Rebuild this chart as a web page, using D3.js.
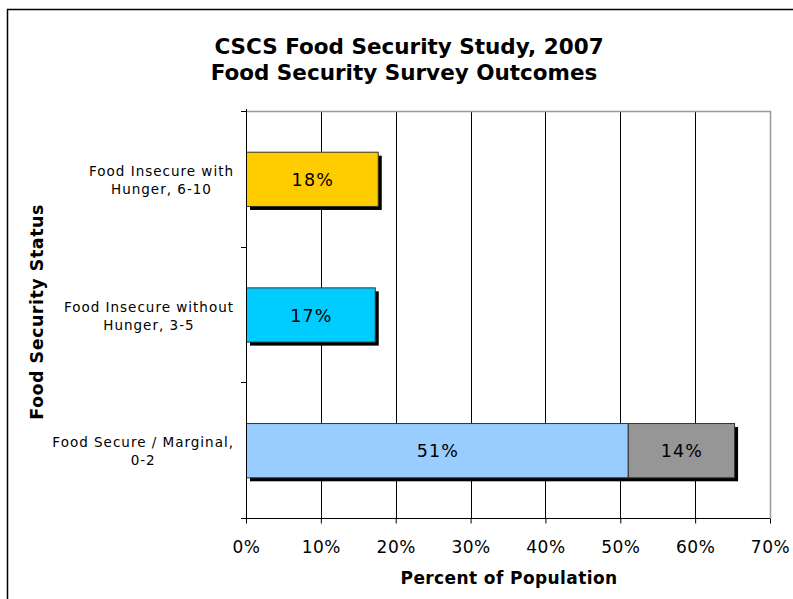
<!DOCTYPE html>
<html>
<head>
<meta charset="utf-8">
<script src="https://cdn.jsdelivr.net/npm/d3@7"></script>
<style>
  body { margin: 0; background: #fff; }
  text { font-family: "DejaVu Sans", Verdana, sans-serif; fill: #000; }
</style>
</head>
<body>
<svg id="chart" width="793" height="599"></svg>
<script>
// chart values
const categories = ["Food Insecure with Hunger, 6-10", "Food Insecure without Hunger, 3-5", "Food Secure / Marginal, 0-2"];
const categoryLines = [["Food Insecure with", "Hunger, 6-10"], ["Food Insecure without", "Hunger, 3-5"], ["Food Secure / Marginal,", "0-2"]];
const mainShare = [17.6, 17.2, 51.0];
const marginalShare = [0, 0, 14.2];
const mainLabels = ["18%", "17%", "51%"];
const marginalLabels = ["", "", "14%"];
const xTicks = [0, 10, 20, 30, 40, 50, 60, 70];

const mainColors = ["#ffcc00", "#00ccff", "#99ccff"];
const marginalColor = "#969696";

let svg = d3.select('#chart');

// outer chart frame
svg.append('rect')
    .attr('x', 7.5).attr('y', 9.5)
    .attr('width', 800).attr('height', 600)
    .attr('fill', 'none').attr('stroke', '#000').attr('stroke-width', 1.5);

let plot = {left: 246, right: 770, top: 111, bottom: 518};

let x = d3.scaleLinear().domain([0, 70]).range([plot.left, plot.right]);
let y = d3.scaleBand().domain(categories).range([plot.top, plot.bottom]).paddingInner(0.6).paddingOuter(0.3);

let rows = categories.map((c, i) => ({category: c, main: mainShare[i], marginal: marginalShare[i], idx: i}));
let stacked = d3.stack().keys(['main', 'marginal'])(rows);

// gridlines
svg.append('g').selectAll('line')
    .data(xTicks.filter(t => t > 0 && t < 70))
    .join('line')
    .attr('x1', d => Math.round(x(d)) + 0.5).attr('x2', d => Math.round(x(d)) + 0.5)
    .attr('y1', plot.top).attr('y2', plot.bottom)
    .attr('stroke', '#000').attr('stroke-width', 1);

// plot border top / right
svg.append('path')
    .attr('d', `M${plot.left},${plot.top + 0.5}H${plot.right + 0.5}V${plot.bottom}`)
    .attr('fill', 'none').attr('stroke', '#999').attr('stroke-width', 1.5);

// shadows
svg.append('g').selectAll('rect')
    .data(rows)
    .join('rect')
    .attr('x', x(0) + 4)
    .attr('y', d => y(d.category) + 4)
    .attr('width', d => x(d.main + d.marginal) - x(0))
    .attr('height', y.bandwidth())
    .attr('fill', '#000');

// bar segments
let segGroups = svg.append('g').selectAll('g')
    .data(stacked)
    .join('g');

segGroups.selectAll('rect')
    .data(d => d.map(s => ({key: d.key, s: s})).filter(v => v.s[1] - v.s[0] > 0))
    .join('rect')
    .attr('x', v => x(v.s[0]) + 0.5)
    .attr('y', v => y(v.s.data.category) + 0.5)
    .attr('width', v => x(v.s[1]) - x(v.s[0]))
    .attr('height', y.bandwidth())
    .attr('fill', v => v.key === 'main' ? mainColors[v.s.data.idx] : marginalColor)
    .attr('stroke', '#333').attr('stroke-width', 1);

segGroups.selectAll('text')
    .data(d => d.map(s => ({key: d.key, s: s})).filter(v => v.s[1] - v.s[0] > 0))
    .join('text')
    .attr('x', v => (x(v.s[0]) + x(v.s[1])) / 2 + 1)
    .attr('y', v => y(v.s.data.category) + y.bandwidth() / 2 + 7)
    .attr('text-anchor', 'middle')
    .style('font-size', '17.5px')
    .style('letter-spacing', '1.2px')
    .text(v => v.key === 'main' ? mainLabels[v.s.data.idx] : marginalLabels[v.s.data.idx]);

// x axis
let xAxis = d3.axisBottom(x).tickValues(xTicks).tickFormat(d => d + '%').tickSize(5).tickSizeOuter(0);
let gx = svg.append('g')
    .attr('transform', `translate(0,${plot.bottom + 0.5})`)
    .call(xAxis);
gx.select('.domain').attr('stroke', '#000').attr('d', `M${plot.left - 5},0H${plot.right}`);
gx.selectAll('.tick line').attr('stroke', '#000');
gx.selectAll('.tick text')
    .attr('y', 22)
    .style('font-size', '17px')
    .style('letter-spacing', '0.5px')
    .style('font-family', '"DejaVu Sans", Verdana, sans-serif');

// y axis: ticks at band boundaries
let yBounds = d3.range(categories.length + 1).map(i => plot.top + i * (plot.bottom - plot.top) / categories.length);
svg.append('line')
    .attr('x1', plot.left + 0.5).attr('x2', plot.left + 0.5)
    .attr('y1', plot.top - 2).attr('y2', plot.bottom + 5)
    .attr('stroke', '#000');
svg.append('g').selectAll('line')
    .data(yBounds)
    .join('line')
    .attr('x1', plot.left - 5).attr('x2', plot.left)
    .attr('y1', d => Math.round(d) + 0.5).attr('y2', d => Math.round(d) + 0.5)
    .attr('stroke', '#000');

// category labels: centred block, right aligned to the axis
let catGroups = svg.append('g').selectAll('g')
    .data(categories)
    .join('g');
catGroups.each(function (c, i) {
    let g = d3.select(this);
    let cy = y(c) + y.bandwidth() / 2;
    let lines = categoryLines[i];
    let texts = g.selectAll('text').data(lines).join('text')
        .attr('text-anchor', 'middle')
        .style('font-size', '13.5px')
        .style('letter-spacing', '1px')
        .attr('y', (d, k) => cy - 3 + k * 18)
        .text(d => d);
    let maxW = d3.max(texts.nodes(), n => n.getComputedTextLength());
    texts.attr('x', 234 - maxW / 2);
});

// titles
svg.append('text')
    .attr('x', 409).attr('y', 54)
    .attr('text-anchor', 'middle')
    .style('font-size', '21.5px').style('font-weight', 'bold')
    .text('CSCS Food Security Study, 2007');
svg.append('text')
    .attr('x', 404).attr('y', 80)
    .attr('text-anchor', 'middle')
    .style('font-size', '21.5px').style('font-weight', 'bold')
    .text('Food Security Survey Outcomes');

svg.append('text')
    .attr('x', 509).attr('y', 584)
    .attr('text-anchor', 'middle')
    .style('font-size', '17px').style('font-weight', 'bold')
    .style('letter-spacing', '0.4px')
    .text('Percent of Population');

svg.append('text')
    .attr('transform', 'translate(43,312) rotate(-90)')
    .attr('text-anchor', 'middle')
    .style('font-size', '17.5px').style('font-weight', 'bold')
    .style('letter-spacing', '0.5px')
    .text('Food Security Status');
</script>
</body>
</html>
